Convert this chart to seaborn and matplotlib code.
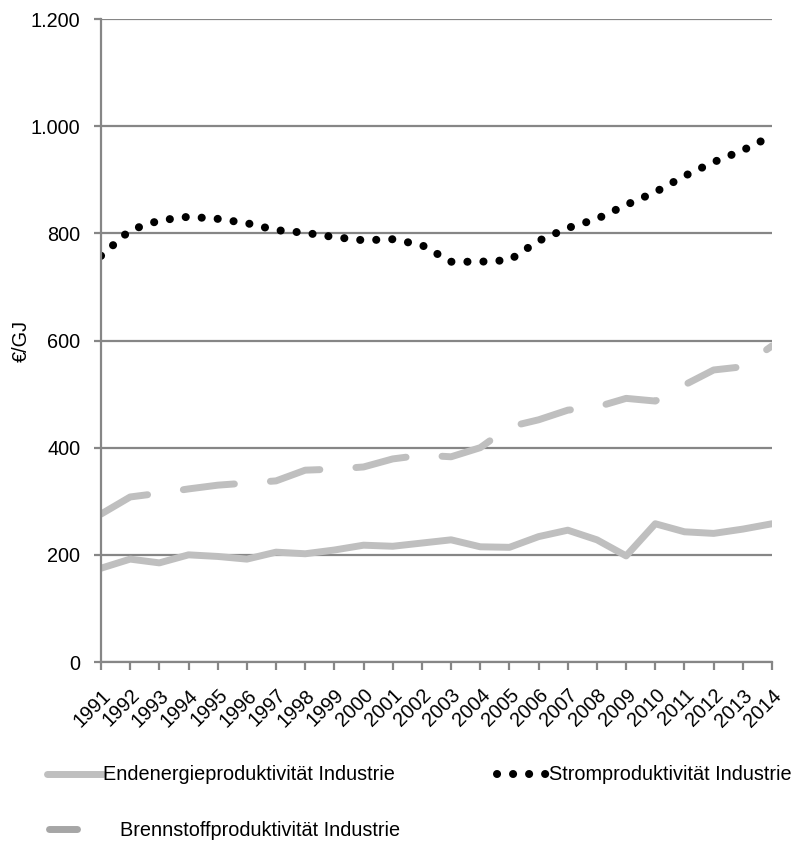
import matplotlib
matplotlib.use("Agg")
import matplotlib.pyplot as plt
from matplotlib.lines import Line2D
from matplotlib.ticker import FuncFormatter, MultipleLocator
import seaborn as sns
import pandas as pd

# Productivity of industry in €/GJ, 1991-2014
years = list(range(1991, 2015))
endenergie = [175, 192, 185, 200, 197, 192, 205, 202, 209, 218, 216, 222,
              228, 215, 214, 234, 246, 228, 198, 258, 243, 240, 248, 258]
strom = [758, 806, 824, 831, 827, 819, 806, 801, 793, 787, 789, 778,
         747, 747, 750, 786, 810, 827, 853, 877, 907, 933, 955, 982]
brennstoff = [276, 308, 315, 323, 330, 334, 338, 358, 360, 364, 379, 386,
              383, 400, 439, 452, 470, 476, 492, 487, 517, 545, 551, 590]

series_names = ["Endenergieproduktivität Industrie",
                "Stromproduktivität Industrie",
                "Brennstoffproduktivität Industrie"]
y_label = "€/GJ"

df = pd.concat([
    pd.DataFrame({"Jahr": years, "Wert": endenergie, "Reihe": series_names[0]}),
    pd.DataFrame({"Jahr": years, "Wert": strom, "Reihe": series_names[1]}),
    pd.DataFrame({"Jahr": years, "Wert": brennstoff, "Reihe": series_names[2]}),
], ignore_index=True)

sns.set_theme(style="white")
plt.rcParams["font.family"] = ["Liberation Sans", "DejaVu Sans"]
plt.rcParams["text.color"] = "black"

GRID = "#868686"
LIGHT = "#BFBFBF"
FS = 14.3

fig = plt.figure(figsize=(8.04, 8.44), dpi=100)
ax = fig.add_axes([101 / 804, 1 - 662 / 844, 671 / 804, 643 / 844])

palette = {series_names[0]: LIGHT, series_names[1]: "black", series_names[2]: LIGHT}
dashes = {series_names[0]: "", series_names[1]: (0.01, 2.3), series_names[2]: (7.4, 5.2)}

sns.lineplot(data=df, x="Jahr", y="Wert", hue="Reihe", style="Reihe",
             hue_order=series_names, style_order=series_names,
             palette=palette, dashes=dashes, linewidth=5, ax=ax, legend=False,
             dash_capstyle="round", solid_capstyle="round", solid_joinstyle="round")

lines = {name: line for name, line in zip(series_names, ax.get_lines())}
# bolder round dots for the electricity series (8 px dots, 16 px apart)
dotted = lines[series_names[1]]
dotted.set_linewidth(5.8)
dotted.set_linestyle((0, (0.01, 1.98)))
dotted.set_dash_capstyle("round")

ax.set_xlim(1991, 2014)
ax.set_ylim(0, 1200)
ax.set_xticks(years)
ax.set_xticklabels([str(y) for y in years], rotation=45, ha="right", va="top",
                   rotation_mode="anchor")
ax.yaxis.set_major_locator(MultipleLocator(200))
ax.yaxis.set_major_formatter(FuncFormatter(lambda v, p: f"{int(v):,}".replace(",", ".")))

ax.set_axisbelow(True)
ax.yaxis.grid(True, color=GRID, linewidth=1.6)
ax.xaxis.grid(False)
for side in ["top", "right"]:
    ax.spines[side].set_visible(False)
for side in ["left", "bottom"]:
    ax.spines[side].set_color(GRID)
    ax.spines[side].set_linewidth(1.6)

ax.tick_params(axis="y", length=5, width=1.6, color=GRID, direction="out",
               pad=10, labelsize=FS, labelcolor="black", left=True)
ax.tick_params(axis="x", length=6, width=1.6, color=GRID, direction="out",
               pad=11, labelsize=FS, labelcolor="black", bottom=True)

ax.set_xlabel("")
ax.set_ylabel(y_label, fontsize=FS, color="black")
ax.yaxis.set_label_coords(-0.104, 0.5)


def add_legend(handle, label, x_px, y_px, handlelength, textpad=0.0):
    return fig.legend([handle], [label], loc="center left",
                      bbox_to_anchor=(x_px / 804, 1 - y_px / 844),
                      frameon=False, borderpad=0, borderaxespad=0,
                      handlelength=handlelength, handletextpad=textpad,
                      fontsize=FS)


add_legend(lines[series_names[0]], series_names[0], 47, 775, 2.82)
add_legend(dotted, series_names[1], 497, 775, 2.6)
short_dash = Line2D([], [], color="#A6A6A6", linewidth=5, solid_capstyle="round")
add_legend(short_dash, series_names[2], 49, 830, 1.4, textpad=2.15)

fig.savefig("out.png", dpi=100)
